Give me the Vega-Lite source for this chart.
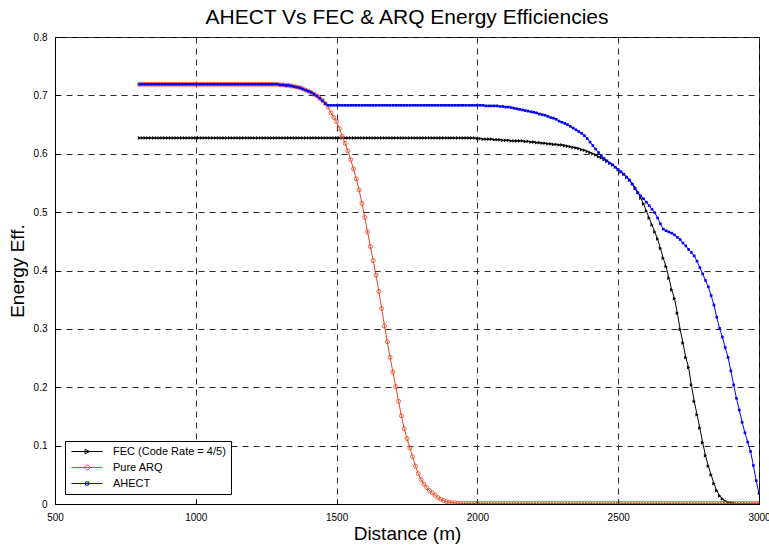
{
"$schema":"https://vega.github.io/schema/vega-lite/v6.json",
"width":704,"height":467,
"autosize":{"type":"none"},
"padding":{"left":55,"top":37,"right":10,"bottom":43},
"background":"white",
"config":{"font":"Liberation Sans","view":{"stroke":"black","strokeWidth":1},
"axis":{"grid":true,"gridDash":[6,5],"gridColor":"#2a2a2a","gridWidth":1,"domainColor":"black","tickColor":"black","tickSize":-5,"labelPadding":13,"labelFontSize":10,"labelColor":"black","titleFontSize":19,"titleFontWeight":"normal","titleColor":"black","labelFlush":false}},
"title":{"text":"AHECT Vs FEC & ARQ Energy Efficiencies","fontSize":21,"fontWeight":"normal","color":"black","offset":4,"anchor":"middle"},
"data":{"values":[
{"d":800,"f":0.627,"a":0.719,"h":0.719},{"d":810,"f":0.627,"a":0.719,"h":0.719},{"d":820,"f":0.627,"a":0.719,"h":0.719},{"d":830,"f":0.627,"a":0.719,"h":0.719},{"d":840,"f":0.627,"a":0.719,"h":0.719},
{"d":850,"f":0.627,"a":0.719,"h":0.719},{"d":860,"f":0.627,"a":0.719,"h":0.719},{"d":870,"f":0.627,"a":0.719,"h":0.719},{"d":880,"f":0.627,"a":0.719,"h":0.719},{"d":890,"f":0.627,"a":0.719,"h":0.719},
{"d":900,"f":0.627,"a":0.719,"h":0.719},{"d":910,"f":0.627,"a":0.719,"h":0.719},{"d":920,"f":0.627,"a":0.719,"h":0.719},{"d":930,"f":0.627,"a":0.719,"h":0.719},{"d":940,"f":0.627,"a":0.719,"h":0.719},
{"d":950,"f":0.627,"a":0.719,"h":0.719},{"d":960,"f":0.627,"a":0.719,"h":0.719},{"d":970,"f":0.627,"a":0.719,"h":0.719},{"d":980,"f":0.627,"a":0.719,"h":0.719},{"d":990,"f":0.627,"a":0.719,"h":0.719},
{"d":1000,"f":0.627,"a":0.719,"h":0.719},{"d":1010,"f":0.627,"a":0.719,"h":0.719},{"d":1020,"f":0.627,"a":0.719,"h":0.719},{"d":1030,"f":0.627,"a":0.719,"h":0.719},{"d":1040,"f":0.627,"a":0.719,"h":0.719},
{"d":1050,"f":0.627,"a":0.719,"h":0.719},{"d":1060,"f":0.627,"a":0.719,"h":0.719},{"d":1070,"f":0.627,"a":0.719,"h":0.719},{"d":1080,"f":0.627,"a":0.719,"h":0.719},{"d":1090,"f":0.627,"a":0.719,"h":0.719},
{"d":1100,"f":0.627,"a":0.719,"h":0.719},{"d":1110,"f":0.627,"a":0.719,"h":0.719},{"d":1120,"f":0.627,"a":0.719,"h":0.719},{"d":1130,"f":0.627,"a":0.719,"h":0.719},{"d":1140,"f":0.627,"a":0.719,"h":0.719},
{"d":1150,"f":0.627,"a":0.719,"h":0.719},{"d":1160,"f":0.627,"a":0.719,"h":0.719},{"d":1170,"f":0.627,"a":0.719,"h":0.719},{"d":1180,"f":0.627,"a":0.719,"h":0.719},{"d":1190,"f":0.627,"a":0.719,"h":0.719},
{"d":1200,"f":0.627,"a":0.719,"h":0.719},{"d":1210,"f":0.627,"a":0.719,"h":0.719},{"d":1220,"f":0.627,"a":0.719,"h":0.719},{"d":1230,"f":0.627,"a":0.719,"h":0.719},{"d":1240,"f":0.627,"a":0.719,"h":0.719},
{"d":1250,"f":0.627,"a":0.719,"h":0.719},{"d":1260,"f":0.627,"a":0.719,"h":0.719},{"d":1270,"f":0.627,"a":0.719,"h":0.719},{"d":1280,"f":0.627,"a":0.719,"h":0.719},{"d":1290,"f":0.627,"a":0.719,"h":0.719},
{"d":1300,"f":0.627,"a":0.718,"h":0.718},{"d":1310,"f":0.627,"a":0.718,"h":0.718},{"d":1320,"f":0.627,"a":0.717,"h":0.717},{"d":1330,"f":0.627,"a":0.717,"h":0.717},{"d":1340,"f":0.627,"a":0.716,"h":0.716},
{"d":1350,"f":0.627,"a":0.715,"h":0.715},{"d":1360,"f":0.627,"a":0.714,"h":0.714},{"d":1370,"f":0.627,"a":0.713,"h":0.713},{"d":1380,"f":0.627,"a":0.711,"h":0.711},{"d":1390,"f":0.627,"a":0.709,"h":0.709},
{"d":1400,"f":0.627,"a":0.707,"h":0.707},{"d":1410,"f":0.627,"a":0.705,"h":0.705},{"d":1420,"f":0.627,"a":0.702,"h":0.702},{"d":1430,"f":0.627,"a":0.699,"h":0.699},{"d":1440,"f":0.627,"a":0.695,"h":0.695},
{"d":1450,"f":0.627,"a":0.691,"h":0.691},{"d":1460,"f":0.627,"a":0.686,"h":0.686},{"d":1470,"f":0.627,"a":0.680,"h":0.683},{"d":1480,"f":0.627,"a":0.670,"h":0.683},{"d":1490,"f":0.627,"a":0.662,"h":0.683},
{"d":1500,"f":0.627,"a":0.655,"h":0.683},{"d":1510,"f":0.627,"a":0.643,"h":0.683},{"d":1520,"f":0.627,"a":0.630,"h":0.683},{"d":1530,"f":0.627,"a":0.618,"h":0.683},{"d":1540,"f":0.627,"a":0.605,"h":0.683},
{"d":1550,"f":0.627,"a":0.590,"h":0.683},{"d":1560,"f":0.627,"a":0.574,"h":0.683},{"d":1570,"f":0.627,"a":0.557,"h":0.683},{"d":1580,"f":0.627,"a":0.538,"h":0.683},{"d":1590,"f":0.627,"a":0.515,"h":0.683},
{"d":1600,"f":0.627,"a":0.491,"h":0.683},{"d":1610,"f":0.627,"a":0.466,"h":0.683},{"d":1620,"f":0.627,"a":0.441,"h":0.683},{"d":1630,"f":0.627,"a":0.417,"h":0.683},{"d":1640,"f":0.627,"a":0.392,"h":0.683},
{"d":1650,"f":0.627,"a":0.364,"h":0.683},{"d":1660,"f":0.627,"a":0.335,"h":0.683},{"d":1670,"f":0.627,"a":0.305,"h":0.683},{"d":1680,"f":0.627,"a":0.278,"h":0.683},{"d":1690,"f":0.627,"a":0.251,"h":0.683},
{"d":1700,"f":0.627,"a":0.226,"h":0.683},{"d":1710,"f":0.627,"a":0.201,"h":0.683},{"d":1720,"f":0.627,"a":0.176,"h":0.683},{"d":1730,"f":0.627,"a":0.151,"h":0.683},{"d":1740,"f":0.627,"a":0.129,"h":0.683},
{"d":1750,"f":0.627,"a":0.112,"h":0.683},{"d":1760,"f":0.627,"a":0.096,"h":0.683},{"d":1770,"f":0.627,"a":0.081,"h":0.683},{"d":1780,"f":0.627,"a":0.065,"h":0.683},{"d":1790,"f":0.627,"a":0.052,"h":0.683},
{"d":1800,"f":0.627,"a":0.042,"h":0.683},{"d":1810,"f":0.627,"a":0.034,"h":0.683},{"d":1820,"f":0.627,"a":0.028,"h":0.683},{"d":1830,"f":0.627,"a":0.023,"h":0.683},{"d":1840,"f":0.627,"a":0.019,"h":0.683},
{"d":1850,"f":0.627,"a":0.015,"h":0.683},{"d":1860,"f":0.627,"a":0.011,"h":0.683},{"d":1870,"f":0.627,"a":0.008,"h":0.683},{"d":1880,"f":0.627,"a":0.006,"h":0.683},{"d":1890,"f":0.627,"a":0.004,"h":0.683},
{"d":1900,"f":0.627,"a":0.003,"h":0.683},{"d":1910,"f":0.627,"a":0.002,"h":0.683},{"d":1920,"f":0.627,"a":0.002,"h":0.683},{"d":1930,"f":0.627,"a":0.001,"h":0.683},{"d":1940,"f":0.627,"a":0.001,"h":0.683},
{"d":1950,"f":0.627,"a":0.001,"h":0.683},{"d":1960,"f":0.627,"a":0.001,"h":0.683},{"d":1970,"f":0.627,"a":0.001,"h":0.683},{"d":1980,"f":0.627,"a":0.001,"h":0.683},{"d":1990,"f":0.627,"a":0.001,"h":0.683},
{"d":2000,"f":0.626,"a":0.001,"h":0.683},{"d":2010,"f":0.626,"a":0.001,"h":0.683},{"d":2020,"f":0.625,"a":0.001,"h":0.683},{"d":2030,"f":0.625,"a":0.001,"h":0.682},{"d":2040,"f":0.625,"a":0.001,"h":0.682},
{"d":2050,"f":0.625,"a":0.001,"h":0.682},{"d":2060,"f":0.624,"a":0.001,"h":0.682},{"d":2070,"f":0.624,"a":0.001,"h":0.682},{"d":2080,"f":0.624,"a":0.001,"h":0.681},{"d":2090,"f":0.623,"a":0.001,"h":0.681},
{"d":2100,"f":0.623,"a":0.001,"h":0.680},{"d":2110,"f":0.623,"a":0.001,"h":0.680},{"d":2120,"f":0.622,"a":0.001,"h":0.679},{"d":2130,"f":0.622,"a":0.001,"h":0.678},{"d":2140,"f":0.622,"a":0.001,"h":0.677},
{"d":2150,"f":0.622,"a":0.001,"h":0.676},{"d":2160,"f":0.622,"a":0.001,"h":0.675},{"d":2170,"f":0.621,"a":0.001,"h":0.674},{"d":2180,"f":0.621,"a":0.001,"h":0.673},{"d":2190,"f":0.620,"a":0.001,"h":0.672},
{"d":2200,"f":0.620,"a":0.001,"h":0.671},{"d":2210,"f":0.619,"a":0.001,"h":0.670},{"d":2220,"f":0.619,"a":0.001,"h":0.668},{"d":2230,"f":0.618,"a":0.001,"h":0.667},{"d":2240,"f":0.618,"a":0.001,"h":0.666},
{"d":2250,"f":0.617,"a":0.001,"h":0.664},{"d":2260,"f":0.617,"a":0.001,"h":0.662},{"d":2270,"f":0.616,"a":0.001,"h":0.661},{"d":2280,"f":0.616,"a":0.001,"h":0.659},{"d":2290,"f":0.615,"a":0.001,"h":0.656},
{"d":2300,"f":0.615,"a":0.001,"h":0.654},{"d":2310,"f":0.614,"a":0.001,"h":0.652},{"d":2320,"f":0.613,"a":0.001,"h":0.650},{"d":2330,"f":0.612,"a":0.001,"h":0.647},{"d":2340,"f":0.611,"a":0.001,"h":0.644},
{"d":2350,"f":0.610,"a":0.001,"h":0.641},{"d":2360,"f":0.609,"a":0.001,"h":0.638},{"d":2370,"f":0.607,"a":0.001,"h":0.635},{"d":2380,"f":0.606,"a":0.001,"h":0.631},{"d":2390,"f":0.604,"a":0.001,"h":0.626},
{"d":2400,"f":0.602,"a":0.001,"h":0.620},{"d":2410,"f":0.600,"a":0.001,"h":0.614},{"d":2420,"f":0.598,"a":0.001,"h":0.608},{"d":2430,"f":0.595,"a":0.001,"h":0.602},{"d":2440,"f":0.593,"a":0.001,"h":0.597},
{"d":2450,"f":0.590,"a":0.001,"h":0.592},{"d":2460,"f":0.587,"a":0.001,"h":0.588},{"d":2470,"f":0.584,"a":0.001,"h":0.584},{"d":2480,"f":0.581,"a":0.001,"h":0.581},{"d":2490,"f":0.577,"a":0.001,"h":0.577},
{"d":2500,"f":0.573,"a":0.001,"h":0.573},{"d":2510,"f":0.569,"a":0.001,"h":0.569},{"d":2520,"f":0.565,"a":0.001,"h":0.565},{"d":2530,"f":0.560,"a":0.001,"h":0.560},{"d":2540,"f":0.555,"a":0.001,"h":0.555},
{"d":2550,"f":0.549,"a":0.001,"h":0.548},{"d":2560,"f":0.542,"a":0.001,"h":0.540},{"d":2570,"f":0.534,"a":0.001,"h":0.533},{"d":2580,"f":0.524,"a":0.001,"h":0.528},{"d":2590,"f":0.514,"a":0.001,"h":0.523},
{"d":2600,"f":0.502,"a":0.001,"h":0.517},{"d":2610,"f":0.490,"a":0.001,"h":0.511},{"d":2620,"f":0.478,"a":0.001,"h":0.505},{"d":2630,"f":0.466,"a":0.001,"h":0.499},{"d":2640,"f":0.454,"a":0.001,"h":0.490},
{"d":2650,"f":0.438,"a":0.001,"h":0.480},{"d":2660,"f":0.421,"a":0.001,"h":0.471},{"d":2670,"f":0.407,"a":0.001,"h":0.468},{"d":2680,"f":0.387,"a":0.001,"h":0.466},{"d":2690,"f":0.367,"a":0.001,"h":0.464},
{"d":2700,"f":0.352,"a":0.001,"h":0.461},{"d":2710,"f":0.327,"a":0.001,"h":0.457},{"d":2720,"f":0.299,"a":0.001,"h":0.453},{"d":2730,"f":0.276,"a":0.001,"h":0.447},{"d":2740,"f":0.251,"a":0.001,"h":0.442},
{"d":2750,"f":0.234,"a":0.001,"h":0.436},{"d":2760,"f":0.204,"a":0.001,"h":0.431},{"d":2770,"f":0.176,"a":0.001,"h":0.425},{"d":2780,"f":0.153,"a":0.001,"h":0.416},{"d":2790,"f":0.130,"a":0.001,"h":0.405},
{"d":2800,"f":0.105,"a":0.001,"h":0.394},{"d":2810,"f":0.083,"a":0.001,"h":0.383},{"d":2820,"f":0.065,"a":0.001,"h":0.372},{"d":2830,"f":0.050,"a":0.001,"h":0.357},{"d":2840,"f":0.035,"a":0.001,"h":0.341},
{"d":2850,"f":0.023,"a":0.001,"h":0.320},{"d":2860,"f":0.014,"a":0.001,"h":0.301},{"d":2870,"f":0.009,"a":0.001,"h":0.286},{"d":2880,"f":0.005,"a":0.001,"h":0.268},{"d":2890,"f":0.003,"a":0.001,"h":0.251},
{"d":2900,"f":0.002,"a":0.001,"h":0.228},{"d":2910,"f":0.001,"a":0.001,"h":0.204},{"d":2920,"f":0.000,"a":0.001,"h":0.181},{"d":2930,"f":0.000,"a":0.001,"h":0.161},{"d":2940,"f":0.000,"a":0.001,"h":0.140},
{"d":2950,"f":0.000,"a":0.001,"h":0.122},{"d":2960,"f":0.000,"a":0.001,"h":0.106},{"d":2970,"f":0.000,"a":0.001,"h":0.090},{"d":2980,"f":0.000,"a":0.001,"h":0.066},{"d":2990,"f":0.000,"a":0.001,"h":0.040},
{"d":3000,"f":0.000,"a":0.001,"h":0.018}
]},
"encoding":{"x":{"field":"d","type":"quantitative","title":"Distance (m)","scale":{"domain":[500,3000],"nice":false},"axis":{"values":[500,1000,1500,2000,2500,3000],"format":"d","titlePadding":2}}},
"layer":[
{"mark":{"type":"line","color":"black","strokeWidth":1,"clip":true,"point":{"shape":"triangle-right","filled":true,"size":14,"color":"black"}},
 "encoding":{"y":{"field":"f","type":"quantitative","title":"Energy Eff.","scale":{"domain":[0,0.8],"nice":false},"axis":{"values":[0,0.1,0.2,0.3,0.4,0.5,0.6,0.7,0.8],"format":"~g","titlePadding":6}}}},
{"mark":{"type":"line","color":"#ea4420","strokeWidth":1,"clip":true,"point":{"shape":"circle","filled":false,"size":16,"strokeWidth":0.8,"color":"#ea4420"}},
 "encoding":{"y":{"field":"a","type":"quantitative","title":"Energy Eff."}}},
{"mark":{"type":"line","color":"#0000ff","strokeWidth":1,"clip":true,"point":{"shape":"square","filled":true,"size":7,"color":"#0000ff"}},
 "encoding":{"y":{"field":"h","type":"quantitative","title":"Energy Eff."}}},
{"transform":[{"fold":["f","a","h"],"as":["k","v"]}],
 "mark":{"type":"point","opacity":0,"filled":false},
 "encoding":{"y":{"field":"v","type":"quantitative","title":"Energy Eff."},
  "color":{"field":"k","type":"nominal","scale":{"domain":["f","a","h"],"range":["black","#ea4420","#0000ff"]},
   "legend":{"title":null,"orient":"bottom-left","offset":10,"fillColor":"white","strokeColor":"black","padding":5,"rowPadding":4,"symbolSize":64,"symbolStrokeWidth":1,"symbolOpacity":1,"labelOffset":32,"labelFontSize":11,"labelColor":"black","labelExpr":"datum.label == 'f' ? 'FEC (Code Rate = 4/5)' : datum.label == 'a' ? 'Pure ARQ' : 'AHECT'"}},
  "shape":{"field":"k","type":"nominal","scale":{"domain":["f","a","h"],"range":["M-1,0H6.75M2.4,-0.6L3.5,0L2.4,0.6Z","M-1,0H6.75M3.55,0A0.6,0.6,0,1,1,2.35,0A0.6,0.6,0,1,1,3.55,0","M-1,0H6.75M2.5,-0.4H3.3V0.4H2.5Z"]}}}}
]
}
